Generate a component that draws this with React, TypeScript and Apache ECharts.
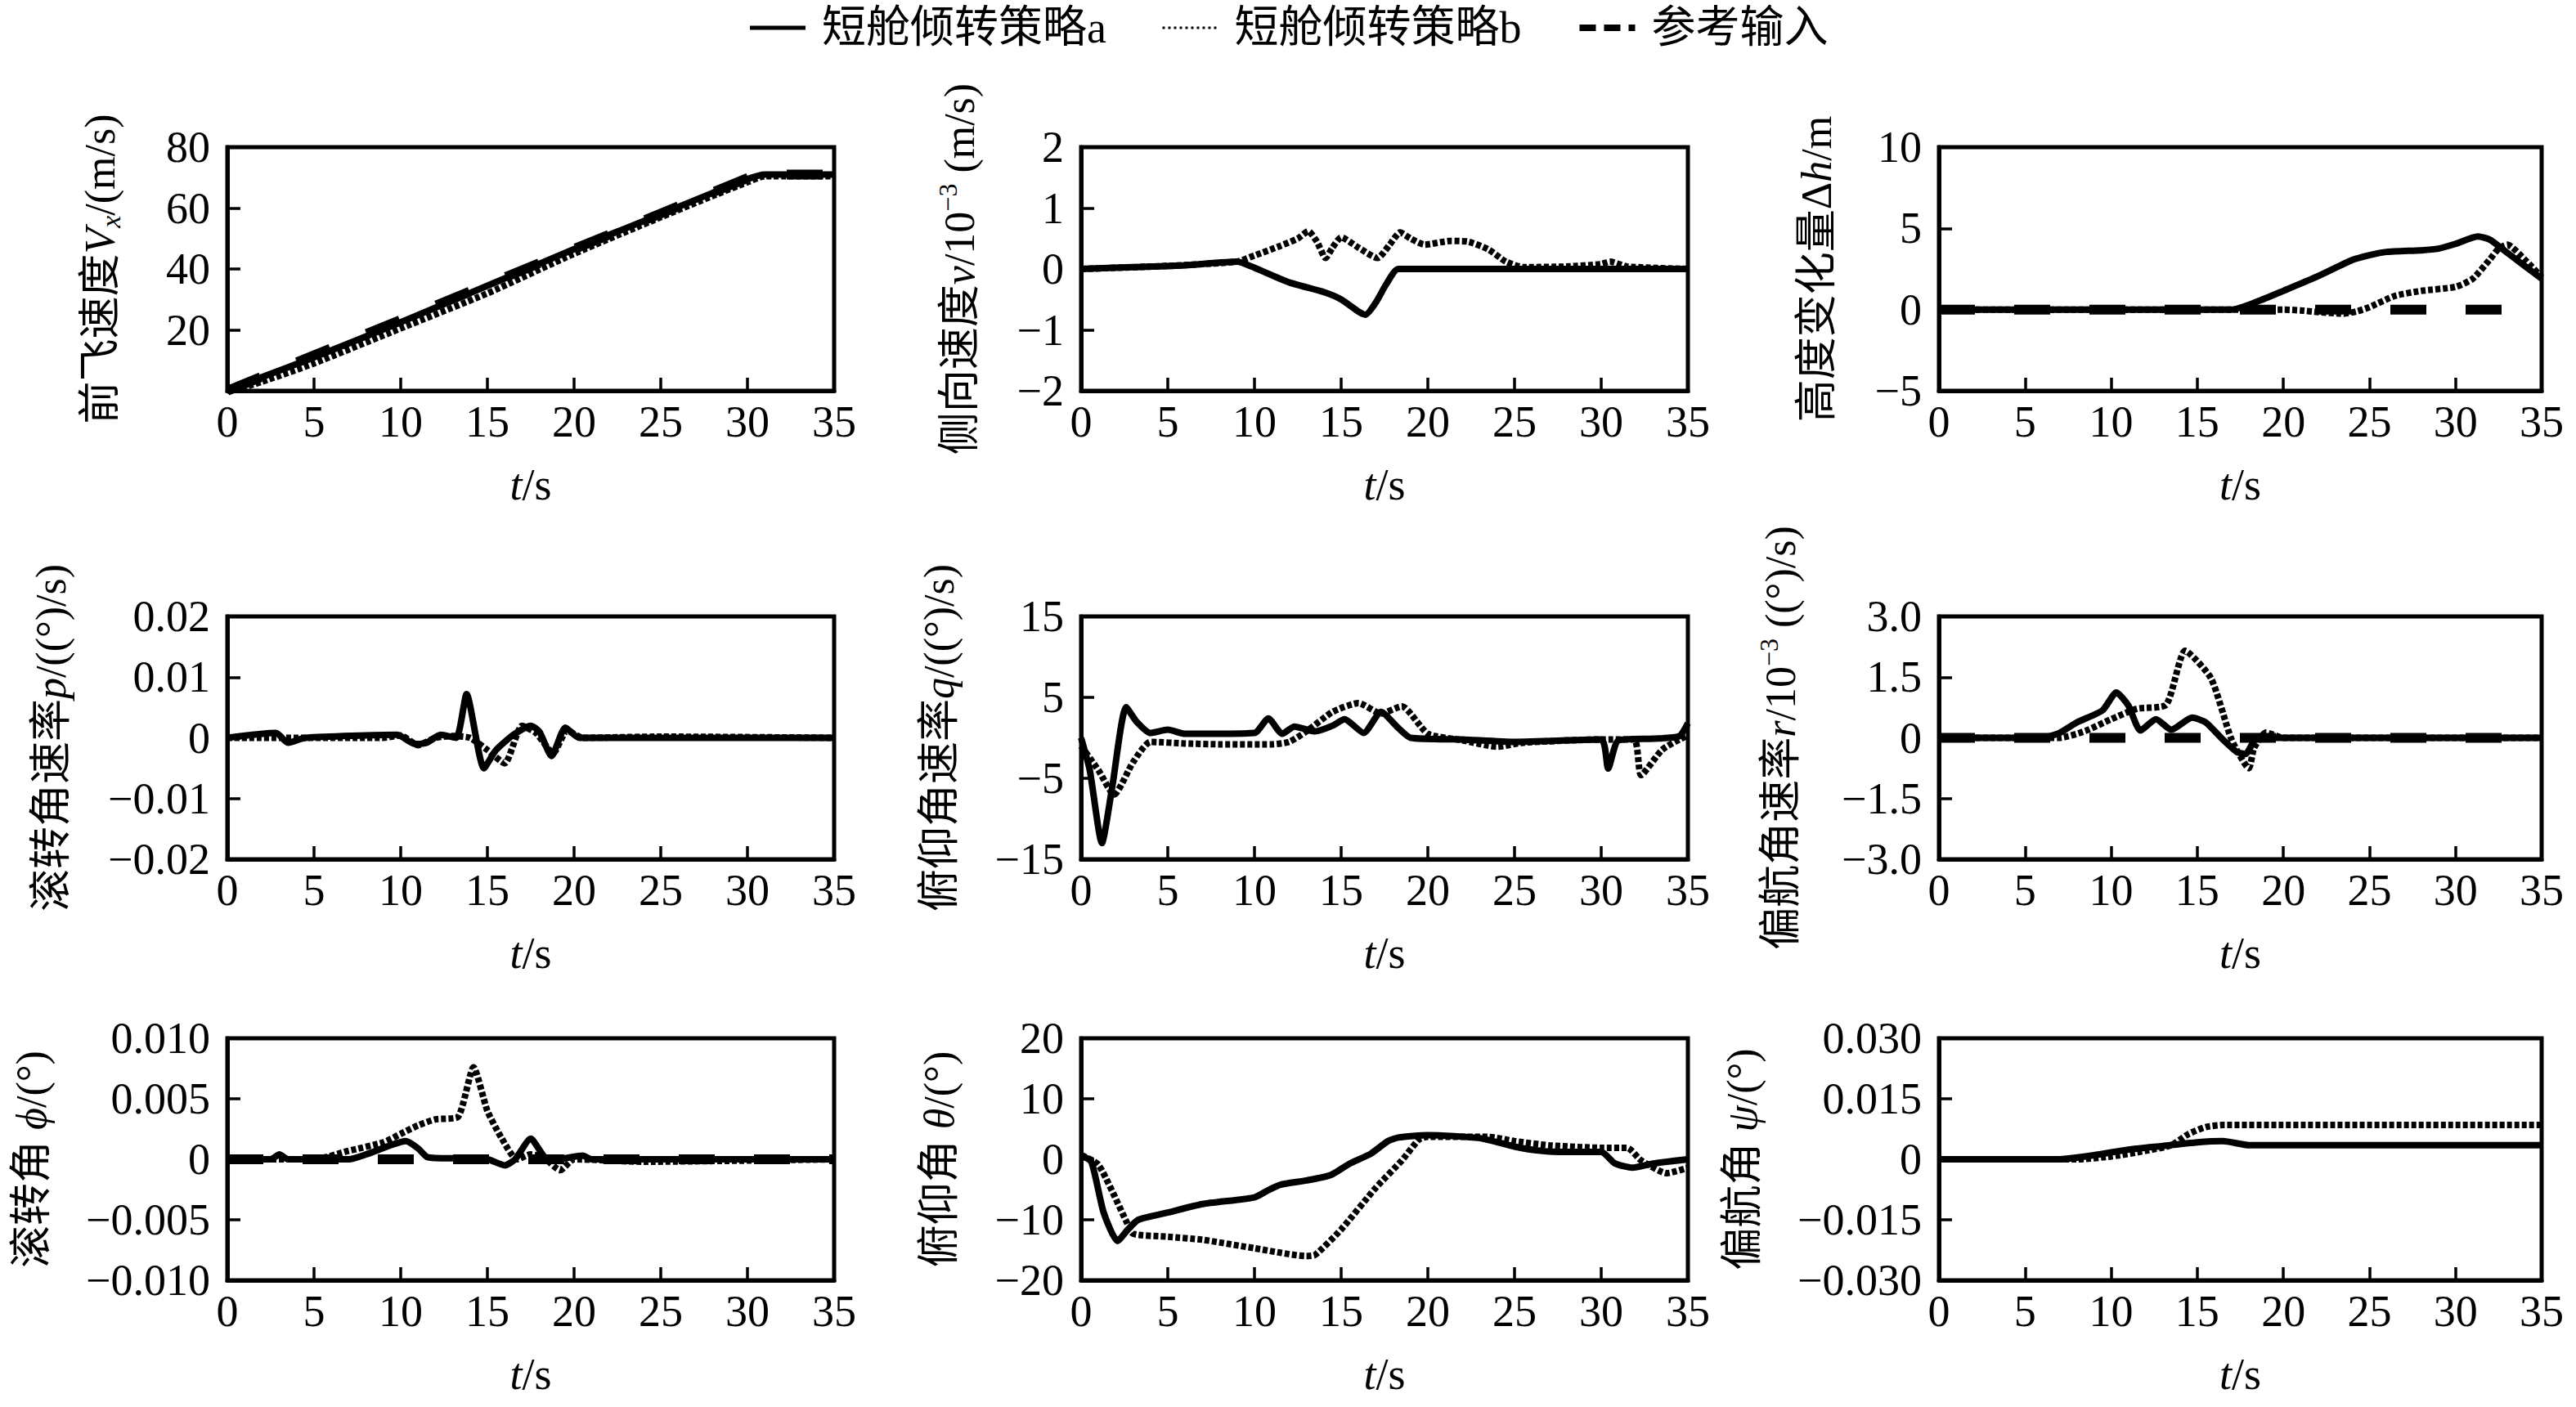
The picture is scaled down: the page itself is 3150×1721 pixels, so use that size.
import React, { useEffect, useRef } from "react";
import * as echarts from "echarts";

const FONT = '"Liberation Serif", "Times New Roman", "Noto Sans CJK SC", serif';
const NAME_A = "短舱倾转策略a";
const NAME_B = "短舱倾转策略b";
const NAME_REF = "参考输入";

// time ticks
const T_MIN = 0;
const T_MAX = 35;
const T_STEP = 5;

// Panel 1: forward velocity Vx (m/s)
const vxA = [[0, 0], [2, 4.5], [5, 11], [10, 22.5], [15, 34.5], [20, 46.5], [25, 58], [28, 65], [30, 69.5], [31, 71], [35, 71]];
const vxB = [[0, -0.5], [2, 3], [5, 9], [10, 20.5], [15, 32], [20, 45], [25, 57], [28, 64], [30, 68.5], [31, 70.5], [35, 70.5]];
const vxRef = [[0, 0], [30.5, 71], [35, 71]];

// Panel 2: lateral velocity v (x1e-3 m/s)
const vyA = [[0, 0], [3, 0.03], [6, 0.06], [9, 0.12], [10, 0.02], [12, -0.22], [14, -0.38], [15, -0.5], [16, -0.7], [16.4, -0.75], [17, -0.55], [17.6, -0.25], [18.3, 0], [35, 0]];
const vyB = [[0, 0], [5, 0.05], [9, 0.12], [10, 0.22], [11.5, 0.38], [12.5, 0.5], [13.1, 0.62], [13.6, 0.45], [14.1, 0.18], [14.5, 0.35], [15, 0.52], [16, 0.35], [17.1, 0.18], [17.8, 0.4], [18.4, 0.6], [19, 0.5], [19.8, 0.4], [21.3, 0.46], [22.3, 0.45], [23.5, 0.32], [24.5, 0.12], [25.5, 0.03], [28, 0.04], [30, 0.08], [30.5, 0.12], [31.5, 0.04], [35, 0]];

// Panel 3: altitude change dh (m)
const dhA = [[0, 0], [17, 0], [18.5, 0.5], [20, 1.15], [22, 2.05], [24, 3.05], [25, 3.35], [26, 3.55], [28, 3.65], [29, 3.75], [30, 4.05], [31.3, 4.5], [32, 4.3], [33, 3.5], [34, 2.7], [35, 1.9]];
const dhB = [[0, 0], [20, 0], [21, -0.05], [22, -0.15], [23.5, -0.25], [24.3, -0.1], [25, 0.15], [26.5, 0.85], [28, 1.15], [30, 1.4], [31, 1.9], [32, 3.1], [32.5, 3.75], [33, 4.0], [34, 3.1], [35, 2.0]];
const dhRef = [[0, 0], [33, 0]];

// Panel 4: roll rate p
const pA = [[0, 0], [2.8, 0.0008], [3.5, -0.0008], [4.5, 0], [9.8, 0.0005], [10.8, -0.001], [11.5, -0.0008], [12.3, 0.0005], [13.2, 0], [13.8, 0.0072], [14.8, -0.005], [15.5, -0.002], [16.5, 0.0005], [17.5, 0.002], [18, 0.001], [18.7, -0.003], [19.5, 0.0017], [20.3, 0], [35, 0]];
const pB = [[0, 0], [9, 0], [10, 0.0004], [11, -0.0012], [12, 0], [13, 0.0003], [14, 0], [15, -0.002], [16, -0.0042], [17, 0.002], [17.8, 0.0008], [18.8, -0.0025], [19.6, 0.0012], [20.5, 0], [25, 0.0002], [35, 0]];

// Panel 5: pitch rate q
const qA = [[0, 0], [0.5, -4], [1.2, -13], [1.8, -6], [2.6, 3.8], [3.2, 2], [4, 0.6], [5, 1], [6, 0.5], [10, 0.6], [10.8, 2.4], [11.6, 0.5], [12.3, 1.4], [13.5, 0.8], [14.5, 1.5], [15.2, 2.3], [16.3, 0.6], [17.3, 3.2], [18.3, 1.2], [19, 0], [22, -0.2], [25, -0.5], [30, -0.2], [30.4, -3.8], [31, -0.3], [33, -0.1], [34.5, 0.2], [35, 1.8]];
const qB = [[0, -1], [1, -4], [1.9, -7], [3, -3], [4, -0.5], [6, -0.7], [8, -0.8], [11, -0.8], [12, -0.5], [13, 0.8], [14.5, 3.2], [16, 4.3], [17.3, 3], [18.5, 3.9], [20, 0.5], [22, -0.3], [24, -1.1], [25.5, -0.6], [30, -0.2], [31.9, -0.2], [32.3, -4.6], [33.5, -1.5], [34.5, -0.2], [35, 0.3]];

// Panel 6: yaw rate r (x1e-3)
const rA = [[0, 0], [6, 0], [7, 0.12], [8, 0.38], [9.5, 0.68], [10.3, 1.12], [11, 0.8], [11.7, 0.18], [12.6, 0.46], [13.5, 0.2], [14.7, 0.5], [15.5, 0.38], [16.5, -0.05], [17.3, -0.35], [17.8, -0.4], [18.5, 0], [35, 0]];
const rB = [[0, 0], [7, 0], [8.5, 0.17], [10, 0.46], [11.5, 0.72], [13.2, 0.82], [14.3, 2.15], [15.8, 1.47], [17, -0.05], [18, -0.75], [18.3, -0.25], [19, 0.13], [20, 0], [35, 0]];
const rRef = [[0, 0], [35, 0]];

// Panel 7: roll angle phi
const phiA = [[0, 0], [2.5, 0], [3, 0.0004], [3.5, 0], [7, 0], [8, 0.0004], [9.5, 0.0012], [10.3, 0.0015], [11, 0.0009], [11.5, 0.0002], [12, 0.0001], [15, 0], [16, -0.0005], [16.6, 0], [17.5, 0.0017], [18.3, 0.0002], [19, 0], [20.5, 0.0003], [21, 0], [35, 0]];
const phiB = [[0, 0], [5, 0], [7, 0.0007], [9, 0.0014], [10, 0.0021], [11, 0.0028], [12, 0.0033], [13.3, 0.0035], [14.2, 0.0076], [15, 0.004], [15.8, 0.0018], [16.7, 0], [17.5, 0.0004], [18.2, 0.0002], [19.2, -0.0009], [20, 0], [24, -0.0002], [35, 0]];
const phiRef = [[0, 0], [35, 0]];

// Panel 8: pitch angle theta
const thA = [[0, 0.7], [0.6, -0.5], [1.3, -8.8], [2.1, -13.5], [2.7, -11.6], [3.3, -10], [5, -8.8], [7, -7.4], [10, -6.3], [10.8, -5.1], [11.5, -4.2], [13, -3.5], [14.4, -2.6], [15.5, -0.7], [16.7, 0.9], [17.7, 3], [18.3, 3.6], [20, 4.0], [23, 3.5], [25, 2.1], [26.5, 1.4], [28, 1.2], [30, 1.2], [30.8, -0.7], [31.8, -1.4], [33, -0.7], [35, 0]];
const thB = [[0, 0.7], [1, -0.9], [2.6, -10.2], [3, -12.3], [5, -12.8], [7, -13.3], [10, -14.7], [13, -16], [13.5, -15.8], [15, -11.6], [17, -4.7], [18.5, -0.2], [19.5, 3.3], [20, 3.7], [23.5, 3.7], [25, 3], [27, 2.3], [30, 1.9], [31.5, 1.9], [32.3, -0.2], [33.8, -2.3], [35, -1.4]];

// Panel 9: yaw angle psi
const psiA = [[0, 0], [7, 0], [9, 0.001], [11, 0.0024], [13, 0.0033], [15, 0.0042], [16.5, 0.0045], [18, 0.0035], [35, 0.0035]];
const psiB = [[0, 0], [8, 0], [10, 0.0007], [12, 0.0021], [13.5, 0.0035], [14.5, 0.0063], [15.5, 0.008], [16.5, 0.0085], [35, 0.0085]];

const Y_NAMES = [
  "前飞速度{i|V}{sub|x}/(m/s)",
  "侧向速度{i|v}/10{sup|−3} (m/s)",
  "高度变化量Δ{i|h}/m",
  "滚转角速率{i|p}/((°)/s)",
  "俯仰角速率{i|q}/((°)/s)",
  "偏航角速率{i|r}/10{sup|−3} ((°)/s)",
  "滚转角 {i|ϕ}/(°)",
  "俯仰角 {i|θ}/(°)",
  "偏航角 {i|ψ}/(°)",
];
const Y_MIN = [0, -2, -5, -0.02, -15, -3, -0.01, -20, -0.03];
const Y_MAX = [80, 2, 10, 0.02, 15, 3, 0.01, 20, 0.03];
const Y_STEP = [20, 1, 5, 0.01, 10, 1.5, 0.005, 10, 0.015];
const Y_DEC = [0, 0, 0, 2, 0, 1, 3, 0, 3];

const SERIES_A = [vxA, vyA, dhA, pA, qA, rA, phiA, thA, psiA];
const SERIES_B = [vxB, vyB, dhB, pB, qB, rB, phiB, thB, psiB];
const SERIES_REF = [vxRef, null, dhRef, null, null, rRef, phiRef, null, null];

const COLS = [[278, 1020], [1322, 2064], [2371, 3108]];
const ROWS = [[180, 478], [754, 1051], [1270, 1566]];
const NAME_GAP = [126, 119, 120, 186, 144, 164, 210, 144, 211];

const fmt = (d: number) => (v: number) =>
  Math.abs(v) < 1e-12 ? "0" : v.toFixed(d).replace("-", "−");

const STYLE_A = { color: "#000", width: 8, type: "solid" };
const STYLE_B = { color: "#000", width: 8, type: [6, 3] };
const STYLE_REF = { color: "#000", width: 12, type: [44, 48] };

function buildOption() {
  const grid: any[] = [];
  const xAxis: any[] = [];
  const yAxis: any[] = [];
  const series: any[] = [];
  const richName = {
    i: { fontStyle: "italic", fontFamily: FONT, fontSize: 52, color: "#000" },
    sub: { fontStyle: "italic", fontFamily: FONT, fontSize: 34, verticalAlign: "bottom", color: "#000" },
    sup: { fontFamily: FONT, fontSize: 32, verticalAlign: "top", color: "#000" },
  };
  for (let k = 0; k < 9; k++) {
    const r = Math.floor(k / 3);
    const c = k % 3;
    const [L, R] = COLS[c];
    const [T, B] = ROWS[r];
    grid.push({ left: L, top: T, width: R - L, height: B - T, show: true, borderColor: "#000", borderWidth: 5, backgroundColor: "transparent" });
    xAxis.push({
      type: "value",
      gridIndex: k,
      min: T_MIN,
      max: T_MAX,
      interval: T_STEP,
      name: "{i|t}/s",
      nameLocation: "middle",
      nameGap: 88,
      nameTextStyle: { fontFamily: FONT, fontSize: 54, color: "#000", rich: { i: { fontStyle: "italic", fontFamily: FONT, fontSize: 54, color: "#000" } } },
      axisLine: { show: true, onZero: false, lineStyle: { color: "#000", width: 5 } },
      axisTick: { show: true, inside: true, length: 16, lineStyle: { color: "#000", width: 3.5 } },
      axisLabel: { fontFamily: FONT, fontSize: 54, color: "#000", margin: 11 },
      splitLine: { show: false },
    });
    yAxis.push({
      type: "value",
      gridIndex: k,
      min: Y_MIN[k],
      max: Y_MAX[k],
      interval: Y_STEP[k],
      name: Y_NAMES[k],
      nameLocation: "middle",
      nameRotate: 90,
      nameGap: NAME_GAP[k],
      nameTextStyle: { fontFamily: FONT, fontSize: 52, color: "#000", lineHeight: 60, rich: richName },
      axisLine: { show: true, onZero: false, lineStyle: { color: "#000", width: 5 } },
      axisTick: { show: true, inside: true, length: 16, lineStyle: { color: "#000", width: 3.5 } },
      axisLabel: { fontFamily: FONT, fontSize: 54, color: "#000", margin: 21, formatter: fmt(Y_DEC[k]), showMinLabel: k !== 0 },
      splitLine: { show: false },
    });
    const ref = SERIES_REF[k];
    if (ref) {
      series.push({
        name: NAME_REF, type: "line", xAxisIndex: k, yAxisIndex: k, data: ref, symbol: "none",
        color: "#000", itemStyle: { color: "#000" }, lineStyle: STYLE_REF,
      });
    }
    series.push({
      name: NAME_B, type: "line", xAxisIndex: k, yAxisIndex: k, data: SERIES_B[k], symbol: "none", smooth: 0.2,
      color: "#000", itemStyle: { color: "#000" }, lineStyle: STYLE_B,
    });
    series.push({
      name: NAME_A, type: "line", xAxisIndex: k, yAxisIndex: k, data: SERIES_A[k], symbol: "none", smooth: 0.2,
      color: "#000", itemStyle: { color: "#000" }, lineStyle: STYLE_A,
    });
  }
  const noSym = { color: "transparent", borderWidth: 0, opacity: 0 };
  return {
    animation: false,
    backgroundColor: "#fff",
    legend: {
      top: 2,
      left: "center",
      itemWidth: 68,
      itemHeight: 20,
      itemGap: 67,
      selectedMode: false,
      textStyle: { fontFamily: FONT, fontSize: 54, color: "#000", padding: [0, 0, 0, 15] },
      data: [
        { name: NAME_A, itemStyle: noSym, lineStyle: { color: "#000", width: 5, type: "solid" } },
        { name: NAME_B, itemStyle: noSym, lineStyle: { color: "#000", width: 3, type: [3, 4] } },
        { name: NAME_REF, itemStyle: noSym, lineStyle: { color: "#000", width: 8, type: [20, 10] } },
      ],
    },
    grid,
    xAxis,
    yAxis,
    series,
  };
}

export default function App() {
  const ref = useRef<HTMLDivElement>(null);
  useEffect(() => {
    document.body.style.margin = "0";
    if (!ref.current) return;
    const chart = echarts.init(ref.current, null, { renderer: "svg" });
    chart.setOption(buildOption() as any);
    return () => chart.dispose();
  }, []);
  return <div ref={ref} style={{ width: 3150, height: 1721, background: "#fff" }} />;
}
